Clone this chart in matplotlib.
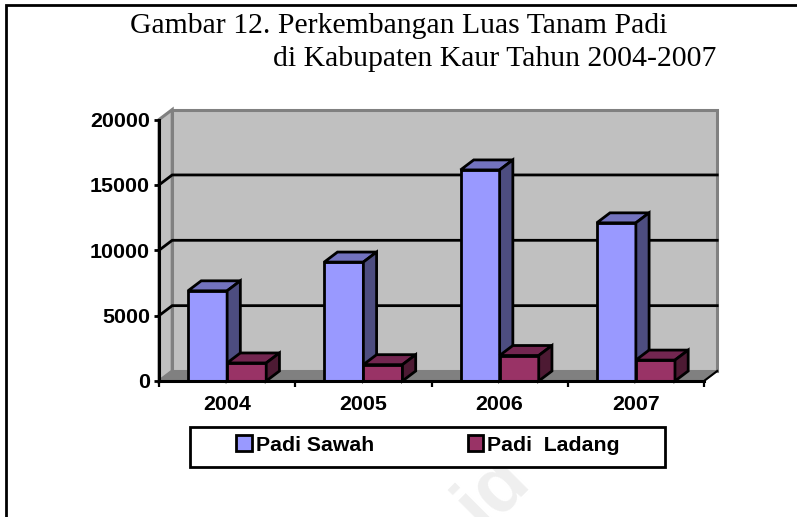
import numpy as np
import matplotlib
matplotlib.use("Agg")
import matplotlib.pyplot as plt
from matplotlib.patches import Polygon, Rectangle, Patch

tahun = ["2004", "2005", "2006", "2007"]
padi_sawah = [6900, 9100, 16150, 12100]
padi_ladang = [1380, 1250, 1950, 1600]
y_ticks = [0, 5000, 10000, 15000, 20000]

# kedalaman efek 3D (satuan data)
DX = 0.097
DY = 765
W = 0.287

fig = plt.figure(figsize=(7.97, 5.17), dpi=100)
ax = fig.add_axes([159 / 797, 136 / 517, 545 / 797, 261.4 / 517])
ax.set_xlim(-0.5, 3.5)
ax.set_ylim(0, 20000)
ax.patch.set_visible(False)


def poly(pts, fc, ec="black", lw=2.0, z=3):
    ax.add_patch(Polygon(pts, closed=True, facecolor=fc, edgecolor=ec, linewidth=lw,
                         joinstyle="miter", zorder=z, clip_on=False))


# dinding dan lantai
x0, x1 = ax.get_xlim()
y_top = y_ticks[-1]
poly([(x0 + DX, DY), (x1 + DX, DY), (x1 + DX, y_top + DY), (x0 + DX, y_top + DY)], "#C0C0C0", "#808080", 2.2, 1)
poly([(x0, 0), (x0 + DX, DY), (x0 + DX, y_top + DY), (x0, y_top)], "#C0C0C0", "#808080", 2.2, 1)
poly([(x0, 0), (x1, 0), (x1 + DX, DY), (x0 + DX, DY)], "#808080", "#808080", 1, 1)

for v in y_ticks[1:-1]:
    ax.plot([x0, x0 + DX, x1 + DX], [v, v + DY, v + DY], color="black", lw=2.0, zorder=2,
            clip_on=False, solid_joinstyle="miter")
ax.plot([x1, x1 + DX], [0, DY], color="black", lw=1.5, zorder=2, clip_on=False)


def batang(x_kiri, nilai, warna, warna_atas, warna_sisi, z):
    ax.bar(x_kiri, nilai, width=W, align="edge", color=warna, edgecolor="black",
           linewidth=2.0, zorder=z, clip_on=False)
    r = x_kiri + W
    poly([(x_kiri, nilai), (r, nilai), (r + DX, nilai + DY), (x_kiri + DX, nilai + DY)], warna_atas, z=z)
    poly([(r, 0), (r + DX, DY), (r + DX, nilai + DY), (r, nilai)], warna_sisi, z=z)


for i in range(len(tahun)):
    batang(i - W, padi_sawah[i], "#9999FF", "#7373BF", "#4D4D80", 3 + i * 2)
    batang(i, padi_ladang[i], "#993366", "#732650", "#4D1A33", 4 + i * 2)

for s in ["top", "right"]:
    ax.spines[s].set_visible(False)
for s in ["left", "bottom"]:
    ax.spines[s].set_linewidth(2.2)
    ax.spines[s].set_zorder(20)

ax.set_yticks(y_ticks)
ax.set_xticks(range(len(tahun)))
ax.set_xticklabels(tahun)
ax.set_xticks(np.arange(-0.5, 4), minor=True)
ax.tick_params(axis="x", which="major", length=0, pad=10)
ax.tick_params(axis="x", which="minor", length=4, width=1.6)
ax.tick_params(axis="y", length=3.5, width=2.0, pad=3)
for t in ax.get_xticklabels() + ax.get_yticklabels():
    t.set_fontfamily("Liberation Sans")
    t.set_fontweight("bold")
    t.set_fontsize(15.4)

# judul
fig.text(399 / 797, 1 - 33 / 517, "Gambar 12. Perkembangan Luas Tanam Padi", family="Liberation Serif",
         fontsize=21.4, ha="center", va="baseline")
fig.text(494.5 / 797, 1 - 66 / 517, "di Kabupaten Kaur Tahun 2004-2007", family="Liberation Serif",
         fontsize=21.4, ha="center", va="baseline")

# kotak legenda
fig.add_artist(Rectangle((190 / 797, 1 - 467 / 517), 475 / 797, 40 / 517, transform=fig.transFigure,
                         facecolor="white", edgecolor="black", linewidth=2.0))
handles = [Patch(facecolor="#9999FF", edgecolor="black", linewidth=2.0, label="Padi Sawah"),
           Patch(facecolor="#993366", edgecolor="black", linewidth=2.0, label="Padi  Ladang")]
fig.legend(handles=handles, loc="center", bbox_to_anchor=(428 / 797, 1 - 445 / 517), ncols=2, frameon=False,
           prop={"family": "Liberation Sans", "weight": "bold", "size": 15.3},
           handlelength=0.72, handleheight=0.72, handletextpad=0.2, columnspacing=4.4)

# bingkai halaman
fig.add_artist(plt.Line2D([6 / 797, 6 / 797, 1], [0, 1 - 5 / 517, 1 - 5 / 517], transform=fig.transFigure,
                          color="black", lw=2.0, solid_joinstyle="miter"))

# watermark
fig.text(493 / 797, 1 - 491 / 517, "id", family="Liberation Sans", fontweight="bold", fontsize=56,
         color="#EFEFEF", rotation=45, ha="center", va="center", zorder=-1)

fig.savefig("out.png", dpi=100)
